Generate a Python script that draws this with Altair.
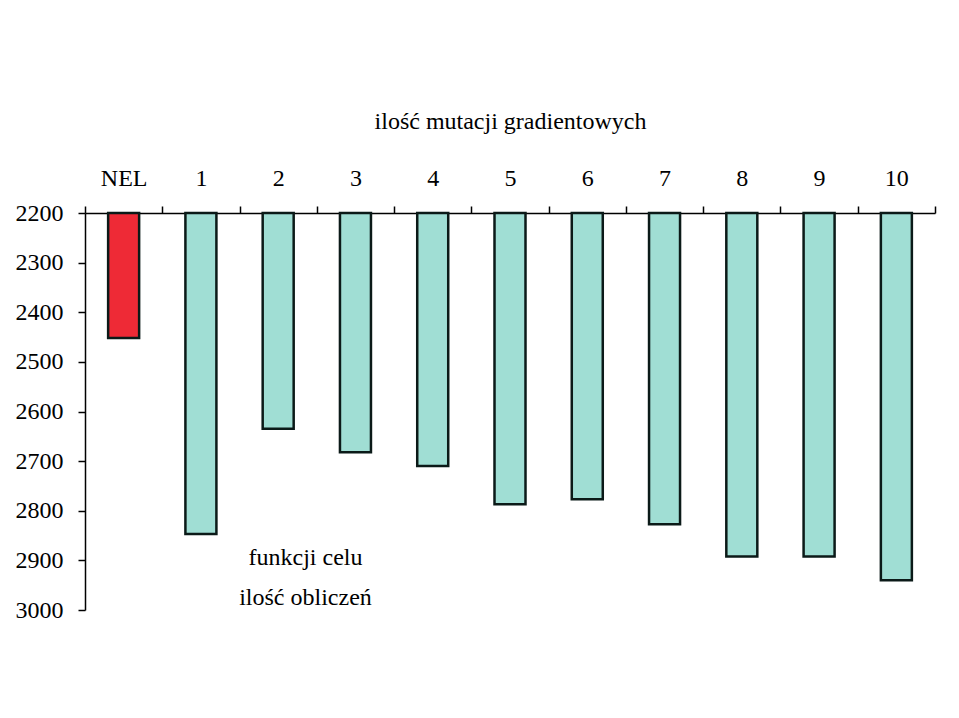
import altair as alt
import pandas as pd

categories = ["NEL", "1", "2", "3", "4", "5", "6", "7", "8", "9", "10"]
values = [2452, 2847, 2635, 2682, 2710, 2787, 2777, 2827, 2892, 2892, 2940]
colors = ["#ee2a36"] + ["#a0ded4"] * 10
y_ticks = [2200, 2300, 2400, 2500, 2600, 2700, 2800, 2900, 3000]

df = pd.DataFrame({"cat": categories, "val": values, "col": colors})

FONT = "Liberation Serif"

chart = alt.Chart(df).mark_bar(
    size=31, stroke="#0b1a18", strokeWidth=2.5
).encode(
    x=alt.X("cat:N", sort=categories, scale=alt.Scale(paddingInner=0, paddingOuter=0),
            axis=alt.Axis(orient="top", title="ilość mutacji gradientowych",
                          labelAngle=0, tickBand="extent", tickSize=7,
                          labelPadding=21, labelBaseline="alphabetic",
                          titleY=-85, titleBaseline="alphabetic",
                          domainColor="black", tickColor="black", grid=False)),
    y=alt.Y("val:Q", scale=alt.Scale(domain=[2200, 3000], reverse=True, zero=False, nice=False),
            axis=alt.Axis(values=y_ticks, format="d", title=["funkcji celu", "ilość obliczeń"],
                          titleAngle=0, titleX=220, titleY=351, titleAlign="center",
                          titleBaseline="alphabetic", titleLineHeight=40,
                          tickSize=7, labelPadding=15, grid=False,
                          domainColor="black", tickColor="black")),
    y2=alt.datum(2200),
    fill=alt.Color("col:N", scale=None),
).properties(
    width=850, height=397,
    autosize=alt.AutoSizeParams(type="none"),
    padding={"left": 85, "top": 213, "right": 24, "bottom": 108},
).configure_axis(
    labelFont=FONT, titleFont=FONT, labelFontSize=24, titleFontSize=24,
    labelColor="black", titleColor="black", titleFontWeight="normal",
    domainWidth=1.5, tickWidth=1.5,
).configure_view(stroke=None)

chart.save("out.html", embed_options={"renderer": "svg", "actions": False})
